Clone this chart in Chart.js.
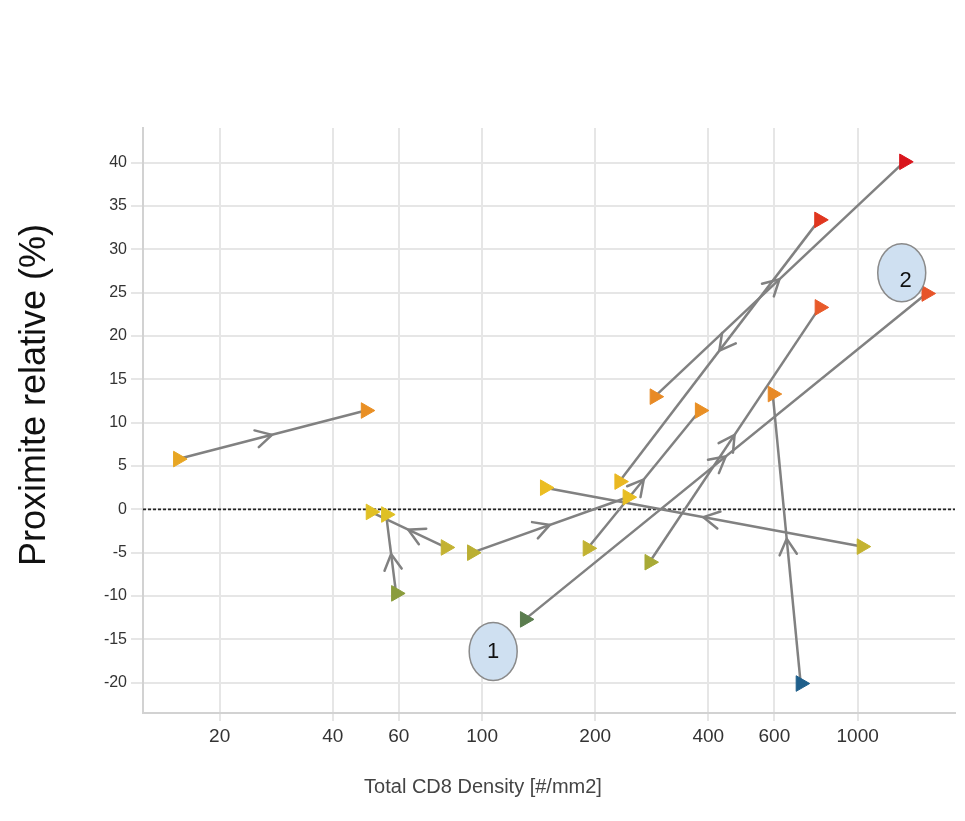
<!DOCTYPE html>
<html>
<head>
<meta charset="utf-8">
<script src="https://cdn.jsdelivr.net/npm/chart.js@4.4.1/dist/chart.umd.min.js"></script>
<style>
  html, body { margin: 0; padding: 0; background: #fff; }
  #wrap { width: 965px; height: 821px; position: relative; }
</style>
</head>
<body>
<div id="wrap"><canvas id="myChart"></canvas></div>
<script>
// one entry per patient: first sample -> second sample
const fromDensity = [15.5, 80, 59, 94, 1025, 790, 288, 191, 279, 130, 705];
const fromProx = [5.8, -4.4, -9.7, -5.0, -4.3, 33.4, 13.0, -4.5, -6.1, -12.7, -20.1];
const toDensity = [49, 50.5, 55.5, 244, 147, 232, 1330, 380, 792, 1525, 594];
const toProx = [11.4, -0.3, -0.6, 1.4, 2.5, 3.2, 40.1, 11.4, 23.3, 24.9, 13.3];

// axis ticks
const xTicks = [20, 40, 60, 100, 200, 400, 600, 1000];
const yTicks = [-20, -15, -10, -5, 0, 5, 10, 15, 20, 25, 30, 35, 40];

// numbered call-outs
const noteLabels = ['1', '2'];
const noteDensity = [107, 1310];
const noteProx = [-16.4, 27.3];

const FONT = "'Liberation Sans', Arial, Helvetica, sans-serif";
Chart.defaults.font.family = FONT;

//marker colour goes from blue (low) through yellow to red (high)
const colorStops = [
    [-20, [31, 95, 139]],
    [-12.7, [91, 125, 79]],
    [-9.7, [138, 156, 60]],
    [-6, [169, 170, 54]],
    [-4.5, [194, 178, 50]],
    [-0.5, [224, 192, 36]],
    [2.5, [235, 189, 34]],
    [5.8, [232, 166, 35]],
    [11.5, [233, 143, 36]],
    [13, [232, 138, 37]],
    [24, [232, 87, 42]],
    [33.4, [224, 54, 31]],
    [40, [217, 20, 28]]
];
const colorFor = (v) => {
    if (v <= colorStops[0][0]) return 'rgb(' + colorStops[0][1].join(',') + ')';
    for (let i = 1; i < colorStops.length; i++) {
        if (v <= colorStops[i][0]) {
            const a = colorStops[i - 1], b = colorStops[i];
            const t = (v - a[0]) / (b[0] - a[0]);
            const c = a[1].map((ch, k) => Math.round(ch + (b[1][k] - ch) * t));
            return 'rgb(' + c.join(',') + ')';
        }
    }
    return 'rgb(' + colorStops[colorStops.length - 1][1].join(',') + ')';
};

//all the end points in one dataset so they sit on top of the lines
const markerPoints = [];
fromDensity.forEach((d, i) => {
    markerPoints.push({ x: d, y: fromProx[i] });
    markerPoints.push({ x: toDensity[i], y: toProx[i] });
});

const datasets = [{
    label: 'points',
    data: markerPoints,
    order: 0,
    showLine: false,
    pointStyle: 'triangle',
    rotation: 90,
    pointRadius: 9,
    pointBorderWidth: 1,
    pointBackgroundColor: markerPoints.map(p => colorFor(p.y)),
    pointBorderColor: markerPoints.map(p => colorFor(p.y))
}];
fromDensity.forEach((d, i) => {
    datasets.push({
        label: 'pair ' + (i + 1),
        data: [{ x: d, y: fromProx[i] }, { x: toDensity[i], y: toProx[i] }],
        order: 1,
        showLine: true,
        borderColor: '#818181',
        borderWidth: 2.5,
        pointRadius: 0
    });
});

const zeroLine = {
    id: 'zeroLine',
    beforeDatasetsDraw(chart) {
        const { ctx, chartArea, scales } = chart;
        const y = scales.y.getPixelForValue(0);
        ctx.save();
        ctx.strokeStyle = '#222';
        ctx.lineWidth = 1.6;
        ctx.setLineDash([3, 2]);
        ctx.beginPath();
        ctx.moveTo(chartArea.left, y);
        ctx.lineTo(chartArea.right, y);
        ctx.stroke();
        ctx.restore();
    }
};

//open arrow head half way along each line
const midArrows = {
    id: 'midArrows',
    afterDatasetsDraw(chart) {
        const { ctx, scales } = chart;
        ctx.save();
        ctx.strokeStyle = '#818181';
        ctx.lineWidth = 2.5;
        ctx.lineCap = 'round';
        fromDensity.forEach((d, i) => {
            const x1 = scales.x.getPixelForValue(d);
            const y1 = scales.y.getPixelForValue(fromProx[i]);
            const x2 = scales.x.getPixelForValue(toDensity[i]);
            const y2 = scales.y.getPixelForValue(toProx[i]);
            const mx = (x1 + x2) / 2, my = (y1 + y2) / 2;
            const ang = Math.atan2(y2 - y1, x2 - x1);
            const len = 18, spread = 0.5;
            ctx.beginPath();
            ctx.moveTo(mx - len * Math.cos(ang - spread), my - len * Math.sin(ang - spread));
            ctx.lineTo(mx, my);
            ctx.lineTo(mx - len * Math.cos(ang + spread), my - len * Math.sin(ang + spread));
            ctx.stroke();
        });
        ctx.restore();
    }
};

const extras = {
    id: 'extras',
    afterDraw(chart) {
        const { ctx, scales } = chart;
        ctx.save();
        //call-out bubbles
        noteLabels.forEach((label, i) => {
            const x = scales.x.getPixelForValue(noteDensity[i]);
            const y = scales.y.getPixelForValue(noteProx[i]);
            ctx.beginPath();
            ctx.ellipse(x, y, 24, 29, 0, 0, Math.PI * 2);
            ctx.fillStyle = '#cfe0f1';
            ctx.fill();
            ctx.strokeStyle = '#8a8a8a';
            ctx.lineWidth = 1.5;
            ctx.stroke();
            ctx.fillStyle = '#111';
            ctx.font = '22px ' + FONT;
            ctx.textAlign = 'center';
            ctx.textBaseline = 'middle';
            ctx.fillText(label, x + (i === 1 ? 4 : 0), y + (i === 1 ? 8 : 0));
        });
        //axis titles
        ctx.fillStyle = '#444';
        ctx.font = '20px ' + FONT;
        ctx.textAlign = 'center';
        ctx.textBaseline = 'middle';
        ctx.fillText('Total CD8 Density [#/mm2]', 483, 787);
        ctx.translate(35, 395);
        ctx.rotate(-Math.PI / 2);
        ctx.fillStyle = '#111';
        ctx.font = '36px ' + FONT;
        ctx.fillText('Proximite relative (%)', 0, 0);
        ctx.restore();
    }
};

const ctx = document.getElementById('myChart').getContext('2d');
const myChart = new Chart(ctx, {
    type: 'scatter',
    data: { datasets: datasets },
    options: {
        responsive: true,
        maintainAspectRatio: false,
        animation: false,
        layout: { padding: { top: 128, right: 4, left: 0, bottom: 0 } },
        plugins: {
            legend: { display: false },
            tooltip: { enabled: false }
        },
        scales: {
            x: {
                type: 'logarithmic',
                min: 12.5,
                max: 1816,
                afterBuildTicks: scale => {
                    scale.ticks = xTicks.map(v => ({ value: v }));
                },
                afterFit: scale => {
                    scale.height = 108;
                },
                ticks: {
                    autoSkip: false,
                    maxRotation: 0,
                    padding: 4,
                    color: '#333',
                    font: { size: 19 },
                    callback: v => String(v)
                },
                grid: { color: '#e6e6e6', lineWidth: 2, tickLength: 8 },
                border: { color: '#d2d2d2', width: 2 }
            },
            y: {
                min: -23.5,
                max: 44,
                afterBuildTicks: scale => {
                    scale.ticks = yTicks.map(v => ({ value: v }));
                },
                afterFit: scale => {
                    scale.width = 143;
                },
                ticks: {
                    padding: 4,
                    color: '#333',
                    font: { size: 16 }
                },
                grid: { color: '#e6e6e6', lineWidth: 2, tickLength: 12 },
                border: { color: '#d2d2d2', width: 2 }
            }
        }
    },
    plugins: [zeroLine, midArrows, extras]
});
</script>
</body>
</html>
